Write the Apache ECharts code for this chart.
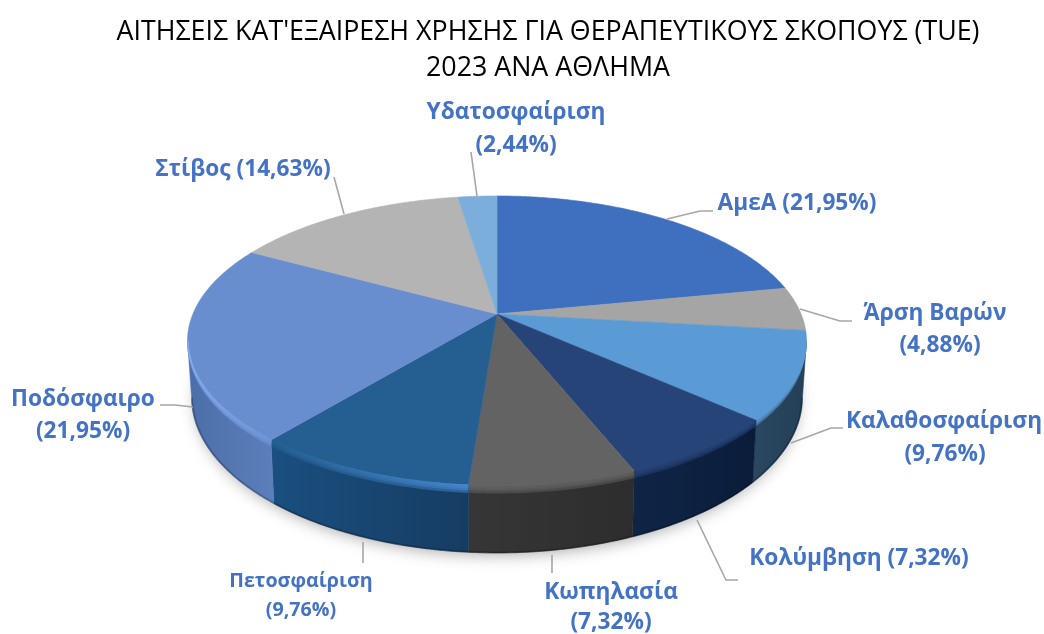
<!DOCTYPE html>
<html>
<head>
<meta charset="utf-8">
<style>html,body{margin:0;padding:0;background:#fff}#c{width:1044px;height:634px}</style>
<script src="https://cdn.jsdelivr.net/npm/echarts@6/dist/echarts.min.js"></script>
</head>
<body>
<div id="c"></div>
<script>
const categories = ['ΑμεΑ','Άρση Βαρών','Καλαθοσφαίριση','Κολύμβηση','Κωπηλασία','Πετοσφαίριση','Ποδόσφαιρο','Στίβος','Υδατοσφαίριση'];
const shares = [21.95,4.88,9.76,7.32,7.32,9.76,21.95,14.63,2.44];
const titleLines = ["ΑΙΤΗΣΕΙΣ ΚΑΤ'ΕΞΑΙΡΕΣΗ ΧΡΗΣΗΣ ΓΙΑ ΘΕΡΑΠΕΥΤΙΚΟΥΣ ΣΚΟΠΟΥΣ (TUE)","2023 ΑΝΑ ΑΘΛΗΜΑ"];

// styles per slice: top colour, side gradient, rim highlight (left, right)
const looks = [
  {top:'#3F6FBF',side:['#2b4d86','#2b4d86'],rim:['#3F6FBF','#3F6FBF']},
  {top:'#A5A5A5',side:['#666','#666'],rim:['#A5A5A5','#A5A5A5']},
  {top:'#5B9BD5',side:['#2a4861','#243f58'],rim:['#5B9BD5','#5B9BD5']},
  {top:'#264478',side:['#0f2546','#0b1c3a'],rim:['#264478','#264478']},
  {top:'#636363',side:['#363636','#2d2d2d'],rim:['#636363','#636363']},
  {top:'#255E91',side:['#1a4f80','#163c62'],rim:['#4a8cd6','#255E91']},
  {top:'#698ED0',side:['#4c6ea8','#5c7fbb'],rim:['#6f95d8','#86adf2']},
  {top:'#B4B4B4',side:['#777','#777'],rim:['#B4B4B4','#B4B4B4']},
  {top:'#7CAEDC',side:['#4a7aa8','#4a7aa8'],rim:['#7CAEDC','#7CAEDC']}
];
// label placement (centre of each text line) and leader lines
const placement = [
  {lines:[[797,204]],leader:[[667,219],[700,211],[713,211]]},
  {lines:[[935,314],[940,346]],leader:[[800,309],[840,321],[852,321]]},
  {lines:[[944,422],[945,455]],leader:[[791,443],[831,428],[843,428]]},
  {lines:[[859,559]],leader:[[697,520],[726,580],[738,580]]},
  {lines:[[611,593],[611,623]],leader:[[552,555],[552,573]]},
  {lines:[[301,581],[301,610]],leader:[[363,542],[363,563]],size:19.7},
  {lines:[[83,400],[83,432]],leader:[[193,407],[175,405],[160,405]]},
  {lines:[[243,170]],leader:[[334,177],[344,214]]},
  {lines:[[516,113],[516,146]],leader:[[471,152],[477,196]]}
];

const CX=497, CY=314, K=0.186, B=140, A=304.1, DEPTH=54.5, TAPER=0.987;
const TOTAL = shares.reduce((a,b)=>a+b,0);
const steps=(t0,t1)=>Math.max(2,Math.ceil(Math.abs(t1-t0)/0.01));
function project(theta, r){
  const x=Math.sin(theta)*r, y=Math.cos(theta)*r, w=1+K*y;
  return [CX+A*x/w, CY-B*y/w];
}
function arc(t0,t1,r){
  const n=steps(t0,t1), out=[];
  for(let i=0;i<=n;i++) out.push(project(t0+(t1-t0)*i/n,r===undefined?1:r));
  return out;
}
// lower disc edge: perspective-scaled drop and slight taper
function lowerArc(t0,t1,r){
  const n=steps(t0,t1), out=[], rr=r===undefined?1:r;
  for(let i=0;i<=n;i++){
    const t=t0+(t1-t0)*i/n, p=project(t,rr), w=1+K*Math.cos(t)*rr;
    out.push([CX+(p[0]-CX)*TAPER, p[1]+DEPTH/w]);
  }
  return out;
}
// bevel band hanging below the rim; thickness fades at the silhouette ends
function bevelArc(t0,t1,th){
  const n=steps(t0,t1), out=[];
  for(let i=0;i<=n;i++){
    const t=t0+(t1-t0)*i/n, p=project(t,1), f=Math.max(0,(-Math.cos(t)-K)/(1-K));
    out.push([p[0],p[1]+0.5+th*Math.sqrt(f)]);
  }
  return out;
}
const VIS0=Math.acos(-K), VIS1=2*Math.PI-VIS0;

function labelText(i){
  const pct=shares[i].toFixed(2).replace('.',',')+'%)';
  const p=placement[i];
  return p.lines.length===1 ? [categories[i]+' ('+pct] : [categories[i],'('+pct];
}

function renderItem(params, api){
  const i=params.dataIndex;
  let before=0; for(let j=0;j<i;j++) before+=shares[j];
  const t0=before/TOTAL*2*Math.PI, t1=t0+api.value(0)/TOTAL*2*Math.PI;
  const look=looks[i], kids=[];
  if(i===0){
    kids.push({type:'polygon',shape:{points:lowerArc(0,2*Math.PI,0.985)},
      style:{fill:'#fff',shadowBlur:16,shadowColor:'rgba(0,0,0,0.35)',shadowOffsetY:5}});
  }
  const s0=Math.max(t0,VIS0), s1=Math.min(t1,VIS1);
  if(s1>s0){
    const side=arc(s0,s1).concat(lowerArc(s1,s0));
    kids.push({type:'polygon',shape:{points:side},style:{
      fill:{type:'linear',x:0,y:0,x2:1,y2:0,colorStops:[{offset:0,color:look.side[0]},{offset:1,color:look.side[1]}]},
      stroke:look.side[1],lineWidth:0.5}});
    kids.push({type:'polyline',shape:{points:lowerArc(s0,s1,0.998)},style:{fill:null,stroke:'rgba(0,0,0,0.22)',lineWidth:2}});
  }
  const top=[[CX,CY]].concat(arc(t0,t1));
  kids.push({type:'polygon',shape:{points:top},style:{fill:look.top,stroke:look.top,lineWidth:0.6}});
  if(s1>s0){
    [7,4.5,2.5].forEach(th=>{
      const band=arc(s0,s1,0.996).concat(bevelArc(s1,s0,th));
      kids.push({type:'polygon',shape:{points:band},style:{
        fill:{type:'linear',x:0,y:0,x2:1,y2:0,colorStops:[{offset:0,color:look.rim[1]},{offset:1,color:look.rim[0]}]},
        opacity:0.5}});
    });
  }
  const pl=placement[i];
  kids.push({type:'polyline',shape:{points:pl.leader},style:{fill:null,stroke:'#A6A6A6',lineWidth:1.6}});
  labelText(i).forEach((t,n)=>{
    kids.push({type:'text',style:{text:t,x:pl.lines[n][0],y:pl.lines[n][1],align:'center',verticalAlign:'middle',
      fill:'#4472C4',font:'bold '+(pl.size||22.7)+'px "Open Sans"'}});
  });
  return {type:'group',children:kids};
}

const chart=echarts.init(document.getElementById('c'),null,{renderer:'canvas'});
chart.setOption({
  animation:false,
  backgroundColor:'#fff',
  title:{text:titleLines.join('\n'),left:548,top:14,padding:0,textAlign:'center',
    textStyle:{fontFamily:'Open Sans',fontWeight:'normal',fontSize:26.8,lineHeight:36,color:'#000'}},
  series:[{type:'custom',coordinateSystem:'none',renderItem,silent:true,
    data:categories.map((name,i)=>({name,value:shares[i]}))}]
});
</script>
</body>
</html>
